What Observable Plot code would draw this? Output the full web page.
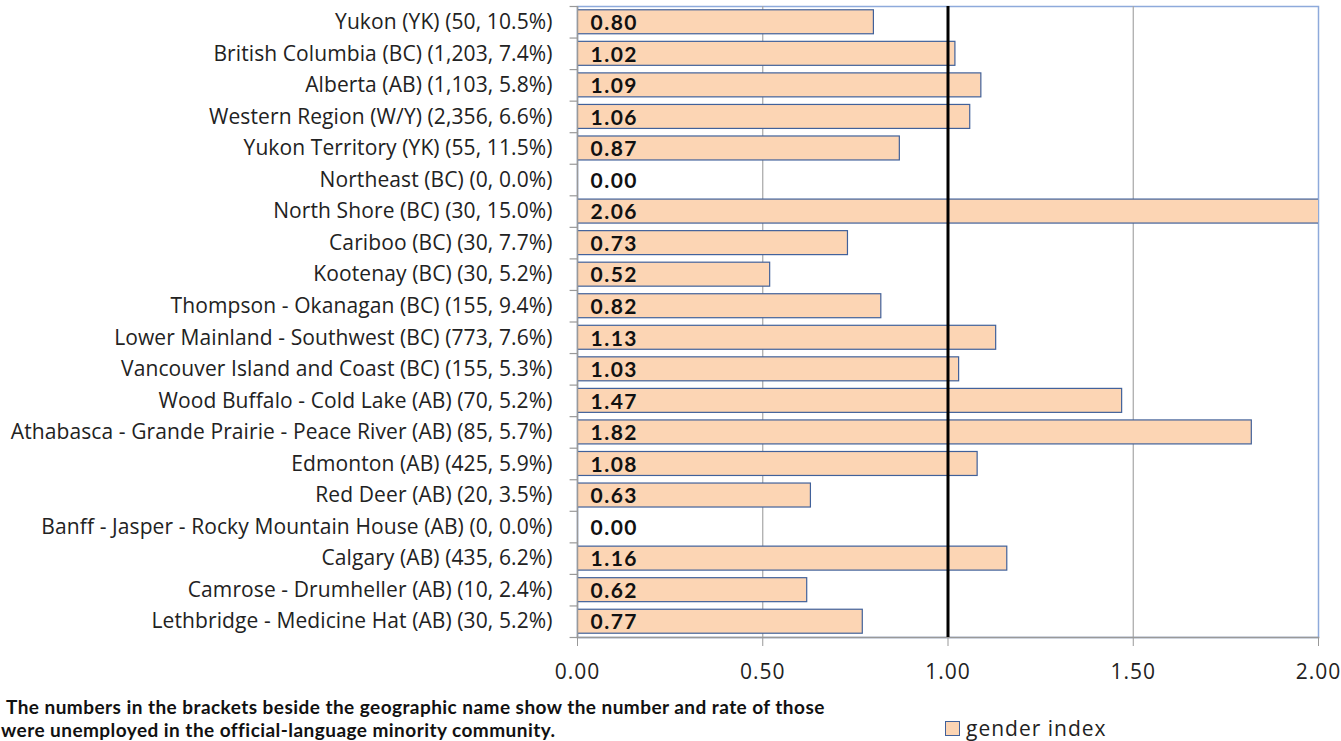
<!DOCTYPE html>
<html>
<head>
<meta charset="utf-8">
<script src="https://cdn.jsdelivr.net/npm/d3@7"></script>
<script src="https://cdn.jsdelivr.net/npm/@observablehq/plot@0.6"></script>
<style>
  html, body { margin: 0; padding: 0; background: #fff; width: 1341px; height: 741px; overflow: hidden; }
  #wrap { position: relative; width: 1341px; height: 741px; }
  #note { position: absolute; left: 6px; top: 695px; font-family: Lato, "Open Sans", sans-serif; font-weight: bold; font-size: 19px; letter-spacing: 0.45px; line-height: 23px; color: #111; white-space: nowrap; }
  #note .l2 { margin-left: -5px; }
  #legend { position: absolute; left: 945px; top: 714px; font-family: "Open Sans", Lato, sans-serif; font-size: 21px; letter-spacing: 1px; color: #222; display: flex; align-items: center; }
  #legend .sw { width: 13px; height: 13px; background: #fcd5b4; border: 1px solid #41619a; margin-right: 6px; }
  .yax text { letter-spacing: 0.1px; }
  .xax text { letter-spacing: 1px; }
  .vals text { letter-spacing: 1.5px; }
</style>
</head>
<body>
<div id="wrap">
  <div id="chart"></div>
  <div id="note"><div>The numbers in the brackets beside the geographic name show the number and rate of those</div><div class="l2">were unemployed in the official-language minority community.</div></div>
  <div id="legend"><div class="sw"></div><span>gender index</span></div>
</div>
<script>
const regions = [
  "Yukon (YK)", "British Columbia (BC)", "Alberta (AB)", "Western Region (W/Y)",
  "Yukon Territory (YK)", "Northeast (BC)", "North Shore (BC)", "Cariboo (BC)",
  "Kootenay (BC)", "Thompson - Okanagan (BC)", "Lower Mainland - Southwest (BC)",
  "Vancouver Island and Coast (BC)", "Wood Buffalo - Cold Lake (AB)",
  "Athabasca - Grande Prairie - Peace River (AB)", "Edmonton (AB)", "Red Deer (AB)",
  "Banff - Jasper - Rocky Mountain House (AB)", "Calgary (AB)",
  "Camrose - Drumheller (AB)", "Lethbridge - Medicine Hat (AB)"
];
const unemployedCounts = [50, 1203, 1103, 2356, 55, 0, 30, 30, 30, 155, 773, 155, 70, 85, 425, 20, 0, 435, 10, 30];
const unemployedRates = [10.5, 7.4, 5.8, 6.6, 11.5, 0.0, 15.0, 7.7, 5.2, 9.4, 7.6, 5.3, 5.2, 5.7, 5.9, 3.5, 0.0, 6.2, 2.4, 5.2];
const genderIndex = [0.80, 1.02, 1.09, 1.06, 0.87, 0.00, 2.06, 0.73, 0.52, 0.82, 1.13, 1.03, 1.47, 1.82, 1.08, 0.63, 0.00, 1.16, 0.62, 0.77];
const xTicks = [0, 0.5, 1, 1.5, 2];
const referenceValue = 1;

const fmtCount = d3.format(",");
const data = regions.map((r, i) => ({
  label: `${r} (${fmtCount(unemployedCounts[i])}, ${unemployedRates[i].toFixed(1)}%)`,
  value: genderIndex[i]
}));
const labels = data.map(d => d.label);

const W = 1341, H = 741;
const mTop = 6, mBottom = 104, mLeft = 577, mRight = 23;
const step = (H - mTop - mBottom) / labels.length;

const chart = Plot.plot({
  width: W,
  height: H,
  marginTop: mTop,
  marginBottom: mBottom,
  marginLeft: mLeft,
  marginRight: mRight,
  style: { fontFamily: "'Open Sans', Lato, sans-serif", fontSize: "21px", color: "#222", background: "#fff" },
  x: { domain: [0, 2], ticks: xTicks, tickFormat: d3.format(".2f") },
  y: { domain: labels, paddingInner: 0.24, paddingOuter: 0.12, round: false },
  marks: [
    Plot.frame({ stroke: "#8eaadb", strokeWidth: 1.5 }),
    Plot.ruleX(xTicks.filter(t => t > 0 && t < 2), { stroke: "#a6a6a6", strokeWidth: 1.2 }),
    Plot.barX(data.filter(d => d.value > 0), {
      x: "value", y: "label", fill: "#fcd5b4", stroke: "#41619a", strokeWidth: 1.2, clip: true
    }),
    Plot.ruleX([0], { stroke: "#999", strokeWidth: 1.5 }),
    Plot.frame({ anchor: "bottom", stroke: "#999", strokeWidth: 1.5 }),
    Plot.ruleY(labels, { y: d => d, x1: -0.02, x2: 0, dy: -step / 2, stroke: "#999", strokeWidth: 1.2 }),
    Plot.ruleY([labels[labels.length - 1]], { y: d => d, x1: -0.02, x2: 0, dy: step / 2, stroke: "#999", strokeWidth: 1.2 }),
    Plot.ruleX([referenceValue], { stroke: "#000", strokeWidth: 3 }),
    Plot.text(data, {
      x: 0, y: "label", text: d => d.value.toFixed(2), dx: 13, dy: 1,
      textAnchor: "start", fontWeight: "bold", fontSize: 21, fontFamily: "Lato, 'Open Sans', sans-serif",
      fill: "#111", className: "vals"
    }),
    Plot.axisY({ tickSize: 0, tickPadding: 25, label: null, fontSize: 21, className: "yax" }),
    Plot.axisX({ ticks: xTicks, tickFormat: d3.format(".2f"), tickSize: 9, tickPadding: 18, label: null, stroke: "#999", fontSize: 21, className: "xax" })
  ]
});
document.getElementById("chart").appendChild(chart);
</script>
</body>
</html>
